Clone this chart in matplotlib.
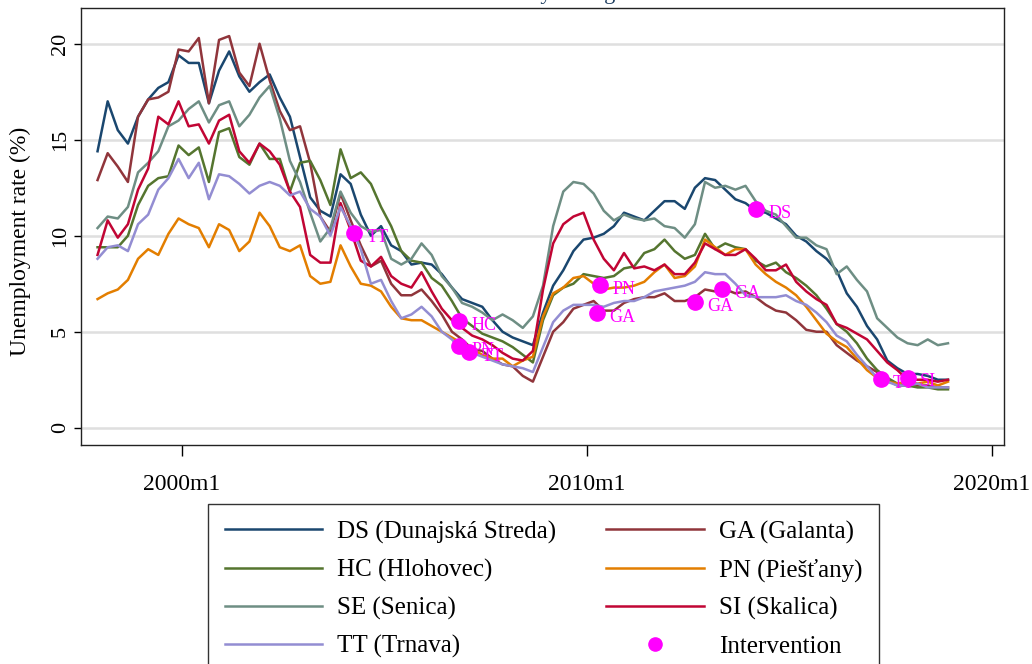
import numpy as np
import matplotlib
matplotlib.use("Agg")
import matplotlib.pyplot as plt
from matplotlib.lines import Line2D

plt.rcParams['font.family'] = ['Liberation Serif', 'DejaVu Serif']

# months since 2000m1, every 3 months (1997m12 .. 2018m12)
months = np.arange(-25, 230, 3)

ds = [14.4, 17.0, 15.5, 14.8, 16.2, 17.1, 17.7, 18.0, 19.4, 19.0, 19.0, 16.9, 18.6, 19.6, 18.3, 17.5, 18.0, 18.4, 17.2, 16.2,
      14.1, 12.0, 11.3, 11.0, 13.2, 12.7, 11.1, 10.0, 10.5, 9.5, 9.2, 8.5, 8.6, 8.5, 8.0, 7.3, 6.7, 6.5, 6.3, 5.6,
      5.0, 4.7, 4.5, 4.3, 6.0, 7.4, 8.2, 9.2, 9.8, 9.9, 10.1, 10.5, 11.2, 11.0, 10.8, 11.3, 11.8, 11.8, 11.4, 12.5,
      13.0, 12.9, 12.4, 11.9, 11.7, 11.3, 11.2, 10.9, 10.6, 10.0, 9.7, 9.2, 8.8, 8.2, 7.0, 6.3, 5.3, 4.6, 3.5, 3.1,
      2.8, 2.8, 2.7, 2.5, 2.5]
ga = [12.9, 14.3, 13.6, 12.8, 16.2, 17.1, 17.2, 17.5, 19.7, 19.6, 20.3, 16.9, 20.2, 20.4, 18.5, 17.8, 20.0, 18.1, 16.5, 15.5,
      15.7, 13.8, 11.0, 10.2, 12.2, 10.8, 9.5, 8.4, 8.7, 7.5, 6.9, 6.9, 7.2, 6.6, 5.9, 5.0, 4.6, 4.1, 4.0, 3.6,
      3.3, 3.2, 2.7, 2.4, 3.7, 5.0, 5.5, 6.2, 6.4, 6.6, 6.1, 6.1, 6.5, 6.7, 6.8, 6.8, 7.0, 6.6, 6.6, 6.8,
      7.2, 7.1, 7.2, 7.0, 7.1, 6.8, 6.4, 6.1, 6.0, 5.6, 5.1, 5.0, 5.0, 4.3, 3.9, 3.5, 3.2, 2.9, 2.5, 2.2,
      2.2, 2.2, 2.2, 2.1, 2.1]
hc = [9.4, 9.4, 9.4, 10.0, 11.6, 12.6, 13.0, 13.1, 14.7, 14.2, 14.6, 12.8, 15.4, 15.6, 14.1, 13.7, 14.8, 14.0, 14.0, 12.3,
      13.8, 13.9, 12.9, 11.6, 14.5, 13.0, 13.3, 12.7, 11.5, 10.5, 9.2, 8.7, 8.6, 7.8, 7.4, 6.6, 5.7, 5.3, 4.9, 4.7,
      4.5, 4.2, 3.8, 3.4, 5.6, 6.9, 7.3, 7.5, 8.0, 7.9, 7.8, 7.9, 8.3, 8.4, 9.1, 9.3, 9.8, 9.2, 8.8, 9.0,
      10.1, 9.3, 9.6, 9.4, 9.3, 8.7, 8.4, 8.6, 8.1, 7.8, 7.4, 6.9, 6.2, 5.4, 5.0, 4.4, 3.6, 3.0, 2.6, 2.3,
      2.2, 2.1, 2.1, 2.0, 2.0]
pn = [6.7, 7.0, 7.2, 7.7, 8.8, 9.3, 9.0, 10.1, 10.9, 10.6, 10.4, 9.4, 10.6, 10.3, 9.2, 9.7, 11.2, 10.5, 9.4, 9.2,
      9.5, 7.9, 7.5, 7.6, 9.5, 8.4, 7.5, 7.4, 7.1, 6.3, 5.7, 5.6, 5.6, 5.3, 5.0, 4.7, 4.4, 4.1, 3.8, 3.6,
      3.6, 3.2, 3.5, 3.7, 5.8, 7.0, 7.3, 7.8, 7.9, 7.5, 7.2, 7.3, 7.3, 7.4, 7.6, 8.1, 8.5, 7.8, 7.9, 8.4,
      9.8, 9.4, 9.0, 9.3, 9.3, 8.5, 8.0, 7.6, 7.3, 6.9, 6.3, 5.6, 4.9, 4.5, 4.2, 3.6, 3.0, 2.6, 2.4, 2.3,
      2.4, 2.3, 2.4, 2.2, 2.4]
se = [10.4, 11.0, 10.9, 11.5, 13.3, 13.8, 14.4, 15.7, 16.0, 16.6, 17.0, 15.9, 16.8, 17.0, 15.7, 16.3, 17.2, 17.8, 16.1, 13.9,
      12.8, 11.2, 9.7, 10.4, 12.3, 11.2, 10.5, 10.2, 10.3, 8.8, 8.5, 8.8, 9.6, 9.0, 7.9, 7.3, 6.5, 6.3, 6.0, 5.6,
      5.9, 5.6, 5.2, 5.8, 7.4, 10.5, 12.3, 12.8, 12.7, 12.2, 11.3, 10.8, 11.1, 10.9, 10.8, 10.9, 10.5, 10.4, 9.9, 10.6,
      12.8, 12.5, 12.6, 12.4, 12.6, 11.8, 11.3, 11.1, 10.5, 9.9, 9.9, 9.5, 9.3, 8.0, 8.4, 7.7, 7.1, 5.7, 5.2, 4.7,
      4.4, 4.3, 4.6, 4.3, 4.4]
si = [9.0, 10.8, 9.9, 10.6, 12.4, 13.5, 16.2, 15.8, 17.0, 15.7, 15.8, 14.8, 16.0, 16.3, 14.4, 13.8, 14.8, 14.4, 13.7, 12.3,
      11.5, 9.0, 8.6, 8.6, 11.7, 10.3, 8.7, 8.4, 8.9, 7.9, 7.5, 7.3, 8.1, 7.1, 6.2, 5.6, 5.2, 4.8, 4.6, 4.3,
      3.9, 3.6, 3.5, 4.0, 7.2, 9.6, 10.6, 11.0, 11.2, 9.8, 8.8, 8.2, 9.1, 8.3, 8.4, 8.2, 8.5, 8.0, 8.0, 8.6,
      9.6, 9.3, 9.0, 9.0, 9.3, 8.8, 8.2, 8.2, 8.5, 7.6, 7.1, 6.7, 6.4, 5.4, 5.2, 4.9, 4.6, 4.0, 3.4, 3.0,
      2.5, 2.5, 2.5, 2.4, 2.5]
tt = [8.8, 9.4, 9.5, 9.2, 10.6, 11.1, 12.4, 13.0, 14.0, 13.0, 13.8, 11.9, 13.2, 13.1, 12.7, 12.2, 12.6, 12.8, 12.6, 12.1,
      12.3, 11.4, 11.0, 10.0, 11.5, 10.5, 9.3, 7.5, 7.7, 6.6, 5.7, 5.9, 6.3, 5.8, 5.0, 4.6, 4.0, 3.9, 3.7, 3.5,
      3.3, 3.2, 3.1, 2.9, 4.2, 5.5, 6.1, 6.4, 6.4, 6.4, 6.3, 6.5, 6.6, 6.6, 6.8, 7.1, 7.2, 7.3, 7.4, 7.6,
      8.1, 8.0, 8.0, 7.5, 6.9, 6.8, 6.8, 6.8, 6.9, 6.6, 6.4, 6.0, 5.5, 4.8, 4.5, 3.8, 3.2, 2.6, 2.4, 2.2,
      2.2, 2.3, 2.1, 2.1, 2.1]

# interventions: month since 2000m1, rate, district
iv_month = [51, 82, 82, 85, 123, 124, 152, 160, 170, 207, 215]
iv_rate = [10.14, 5.56, 4.26, 3.94, 5.97, 7.43, 6.55, 7.22, 11.38, 2.54, 2.61]
iv_label = ["TT", "HC", "PN", "TT", "GA", "PN", "GA", "GA", "DS", "TT", "SI"]

tick_months = [0, 120, 240]
tick_labels = ["2000m1", "2010m1", "2020m1"]

series = [
    ("DS (Dunajská Streda)", ds, "#1a476f"),
    ("GA (Galanta)", ga, "#90353b"),
    ("HC (Hlohovec)", hc, "#55752f"),
    ("PN (Piešťany)", pn, "#e37e00"),
    ("SE (Senica)", se, "#6e8e84"),
    ("SI (Skalica)", si, "#c10534"),
    ("TT (Trnava)", tt, "#938dd2"),
]
magenta = "#ff00ff"

fig = plt.figure(figsize=(10.32, 6.64), dpi=100)
ax = fig.add_axes([0.0785, 0.3298, 0.8944, 0.6581])

handles = {}
for name, vals, col in series:
    h, = ax.plot(months, vals, color=col, lw=1.8, solid_joinstyle="round")
    handles[name] = h

ax.plot(iv_month, iv_rate, "o", color=magenta, ms=11, zorder=5)
for m, r, lab in zip(iv_month, iv_rate, iv_label):
    ax.annotate(lab, (m, r), xytext=(9, -3), textcoords="offset points",
                color=magenta, fontsize=13, va="center", ha="left", zorder=6)

ax.set_xlim(-29.9, 243.6)
ax.set_ylim(-0.9, 21.86)
ax.set_yticks([0, 5, 10, 15, 20])
ax.set_yticklabels(["0", "5", "10", "15", "20"], rotation=90, va="center")
ax.set_xticks(tick_months)
ax.set_xticklabels(tick_labels)
ax.yaxis.grid(True, color="#dfdfdf", lw=1.8)
ax.set_axisbelow(True)
ax.tick_params(axis="x", length=8, width=1, pad=13, labelsize=17)
ax.tick_params(axis="y", length=5, width=1, pad=3, labelsize=16)
for s in ax.spines.values():
    s.set_linewidth(1.0)
    s.set_color("#222222")

fig.text(20 / 1032, 0.637, "Unemployment rate (%)", rotation=90,
         ha="center", va="center", fontsize=17)

# title sits mostly above the canvas, only descenders visible
fig.text(381 / 1032, 1 + 1 / 664, "Treated districts by timing", ha="left",
         va="baseline", fontsize=16, color="#1a3a5c")

iv_handle = Line2D([], [], ls="none", marker="o", color=magenta, ms=9.5)
order = ["DS (Dunajská Streda)", "HC (Hlohovec)", "SE (Senica)", "TT (Trnava)",
         "GA (Galanta)", "PN (Piešťany)", "SI (Skalica)"]
leg_handles = [handles[n] for n in order] + [iv_handle]
leg_labels = order + ["Intervention"]
leg = fig.legend(leg_handles, leg_labels, ncol=2, loc="upper center",
                 bbox_to_anchor=(543.5 / 1032, 1 - 504 / 664), borderaxespad=0,
                 fontsize=18, frameon=True, fancybox=False, edgecolor="black",
                 handlelength=3.9, handletextpad=0.6, columnspacing=2.0,
                 labelspacing=0.6, borderpad=0.66)
leg.get_frame().set_linewidth(1.0)

fig.savefig("out.png", dpi=100)
